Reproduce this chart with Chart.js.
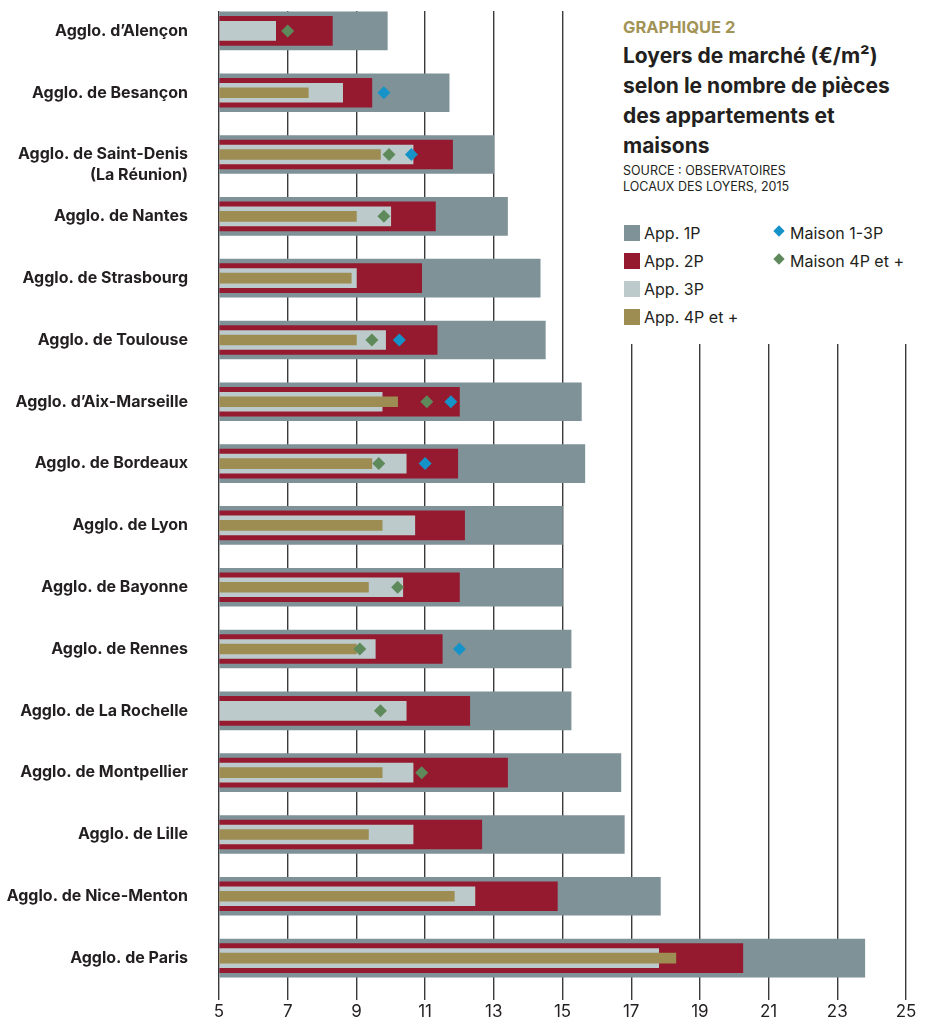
<!DOCTYPE html>
<html lang="fr">
<head>
<meta charset="utf-8">
<script src="https://cdn.jsdelivr.net/npm/chart.js@4"></script>
<style>
  html, body { margin: 0; padding: 0; background: #fff; }
  .wrap { position: relative; width: 928px; height: 1024px; }
  .side {
    position: absolute; left: 600px; top: 0; width: 328px; height: 344px;
    background: #fff; font-family: Inter, sans-serif; color: #231f20;
  }
  .kicker { position: absolute; left: 23px; top: 17px; font-size: 16.5px; font-weight: 700; color: #a29357; }
  .title { position: absolute; left: 23px; top: 41px; font-size: 21px; font-weight: 700; line-height: 30px; white-space: nowrap; }
  .source { position: absolute; left: 23px; top: 163px; font-size: 12.5px; line-height: 16px; }
  .item { position: absolute; font-size: 16px; line-height: 20px; white-space: nowrap; }
  .sq { display: inline-block; width: 16px; height: 16px; vertical-align: -2px; margin-right: 4px; }
  .dm { display: inline-block; width: 8px; height: 8px; transform: rotate(45deg); margin: 0 7px 2px 3px; vertical-align: 2px; }
</style>
</head>
<body>
<div class="wrap">
  <canvas id="rents" width="928" height="1024"></canvas>
  <div class="side">
    <div class="kicker">GRAPHIQUE 2</div>
    <div class="title">Loyers de marché (€/m²)<br>selon le nombre de pièces<br>des appartements et<br>maisons</div>
    <div class="source">SOURCE : OBSERVATOIRES<br>LOCAUX DES LOYERS, 2015</div>
    <div class="item" style="left:24px;top:223px"><span class="sq" style="background:#7f9298"></span>App. 1P</div>
    <div class="item" style="left:24px;top:251px"><span class="sq" style="background:#951a2f"></span>App. 2P</div>
    <div class="item" style="left:24px;top:279px"><span class="sq" style="background:#bdcacb"></span>App. 3P</div>
    <div class="item" style="left:24px;top:307px"><span class="sq" style="background:#9d8d52"></span>App. 4P et +</div>
    <div class="item" style="left:172px;top:223px"><span class="dm" style="background:#1593c8"></span>Maison 1-3P</div>
    <div class="item" style="left:172px;top:251px"><span class="dm" style="background:#5e8a5b"></span>Maison 4P et +</div>
  </div>
</div>
<script>
// the empty first line keeps "Saint-Denis" level with its bar
const cities = [
  "Agglo. d\u2019Alençon",
  "Agglo. de Besançon",
  ["", "Agglo. de Saint-Denis", "(La Réunion)"],
  "Agglo. de Nantes",
  "Agglo. de Strasbourg",
  "Agglo. de Toulouse",
  "Agglo. d\u2019Aix-Marseille",
  "Agglo. de Bordeaux",
  "Agglo. de Lyon",
  "Agglo. de Bayonne",
  "Agglo. de Rennes",
  "Agglo. de La Rochelle",
  "Agglo. de Montpellier",
  "Agglo. de Lille",
  "Agglo. de Nice-Menton",
  "Agglo. de Paris"
];

// loyers €/m2
const app1P = [9.9, 11.7, 13.0, 13.4, 14.35, 14.5, 15.55, 15.65, 15.0, 15.0, 15.25, 15.25, 16.7, 16.8, 17.85, 23.8];
const app2P = [8.3, 9.45, 11.8, 11.3, 10.9, 11.35, 12.0, 11.95, 12.15, 12.0, 11.5, 12.3, 13.4, 12.65, 14.85, 20.25];
const app3P = [6.65, 8.6, 10.65, 10.0, 9.0, 9.85, 9.75, 10.45, 10.7, 10.35, 9.55, 10.45, 10.65, 10.65, 12.45, 17.8];
const app4P = [null, 7.6, 9.7, 9.0, 8.85, 9.0, 10.2, 9.45, 9.75, 9.35, 9.0, null, 9.75, 9.35, 11.85, 18.3];
const maison13P = [null, 9.8, 10.6, null, null, 10.25, 11.75, 11.0, null, null, 12.0, null, null, null, null, null];
const maison4P = [7.0, null, 9.95, 9.8, null, 9.45, 11.05, 9.65, null, 10.2, 9.1, 9.7, 10.9, null, null, null];

const xTicks = [5, 7, 9, 11, 13, 15, 17, 19, 21, 23, 25];

const ink = "#231f20";

function barSet(label, data, color, thickness, order) {
  return {
    type: "bar",
    label: label,
    data: data,
    backgroundColor: color,
    barThickness: thickness,
    grouped: false,
    base: 5,
    order: order,
  };
}

function diamondSet(label, data, color) {
  return {
    type: "line",
    label: label,
    data: data,
    indexAxis: "y",
    showLine: false,
    pointStyle: "rectRot",
    pointRadius: 6.5,
    pointBorderWidth: 0,
    pointBackgroundColor: color,
    order: 0,
  };
}

// masks the grid above the first row
const topGap = {
  id: "topGap",
  beforeDatasetsDraw(chart) {
    const { ctx, chartArea } = chart;
    ctx.save();
    ctx.fillStyle = "#fff";
    ctx.fillRect(chartArea.left - 3, 0, chartArea.width + 6, 11);
    ctx.restore();
  },
};

new Chart(document.getElementById("rents"), {
  data: {
    labels: cities,
    datasets: [
      barSet("App. 1P", app1P, "#7f9298", 38, 5),
      barSet("App. 2P", app2P, "#951a2f", 29, 4),
      barSet("App. 3P", app3P, "#bdcacb", 19, 3),
      barSet("App. 4P et +", app4P, "#9d8d52", 10, 2),
      diamondSet("Maison 4P et +", maison4P, "#5e8a5b"),
      diamondSet("Maison 1-3P", maison13P, "#1593c8"),
    ],
  },
  options: {
    indexAxis: "y",
    responsive: false,
    animation: false,
    layout: { autoPadding: false, padding: { top: 0, right: 22, left: 0, bottom: 0 } },
    plugins: {
      legend: { display: false },
      tooltip: { enabled: false },
    },
    scales: {
      x: {
        type: "linear",
        min: 5,
        max: 25,
        afterBuildTicks: (scale) => {
          scale.ticks = xTicks.map((v) => ({ value: v }));
        },
        afterFit: (scale) => { scale.height = 35; },
        border: { display: false },
        grid: {
          color: "#3a3a3a",
          lineWidth: 1.4,
          drawTicks: true,
          tickLength: 11,
          tickColor: "#3a3a3a",
        },
        ticks: {
          color: ink,
          font: { family: "Inter", size: 17 },
          padding: 2,
        },
      },
      y: {
        type: "category",
        offset: true,
        afterFit: (scale) => {
          scale.width = 219;
          scale.paddingTop = 0;
          scale.paddingBottom = 0;
        },
        border: { display: false },
        grid: { display: false, drawTicks: false },
        ticks: {
          autoSkip: false,
          color: ink,
          font: { family: "Inter", size: 16, weight: "bold", lineHeight: 1.3 },
          padding: 31,
        },
      },
    },
  },
  plugins: [topGap],
});
</script>
</body>
</html>
